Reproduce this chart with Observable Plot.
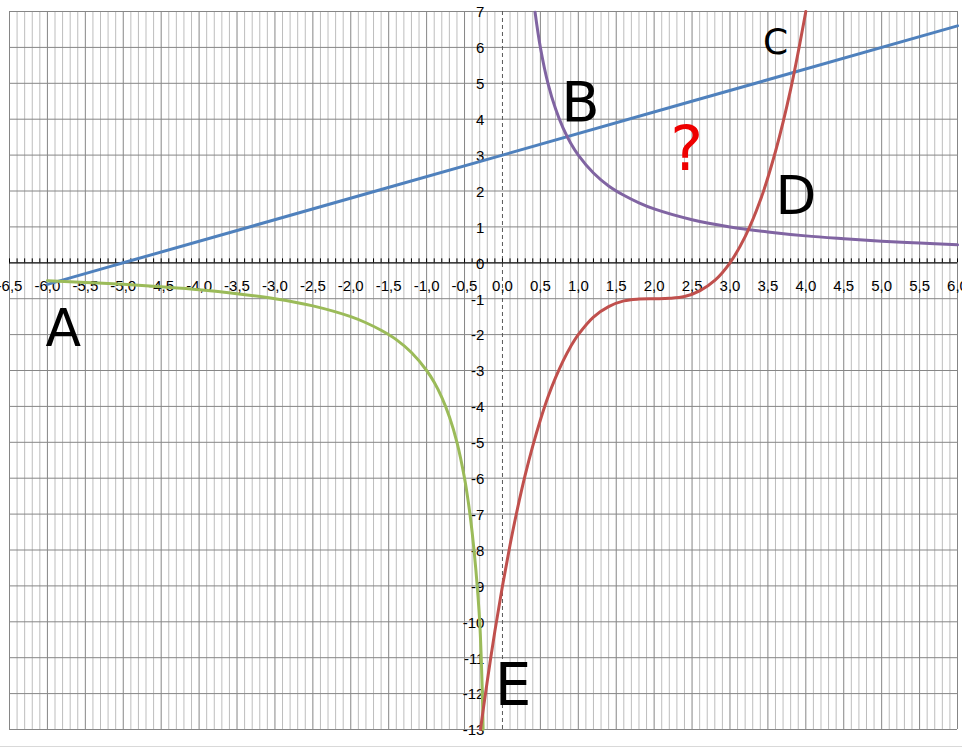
<!DOCTYPE html>
<html><head><meta charset="utf-8">
<script src="https://cdn.jsdelivr.net/npm/d3@7"></script>
<script src="https://cdn.jsdelivr.net/npm/@observablehq/plot@0.6"></script>
<style>
body{margin:0;background:#fff}
#wrap{position:relative;width:962px;height:749px;overflow:hidden;background:#fff}
#edge{position:absolute;left:0;top:746px;width:962px;height:1px;background:#d9d9d9}
</style>
</head><body><div id="wrap"><div id="edge"></div></div>
<script>
// ---- data ----
const blueX = [-6.0, -5.0, 0.0, 6.0];
const blueY = [-0.6, 0.0, 3.0, 6.6];

const purpleX = [0.43, 0.5, 0.6, 0.7, 0.8, 0.9, 1.0, 1.2, 1.4, 1.6, 1.8, 2.0, 2.5, 3.0, 3.5, 4.0, 4.5, 5.0, 5.5, 6.0];
const purpleY = [6.98, 6.0, 5.0, 4.29, 3.75, 3.33, 3.0, 2.5, 2.14, 1.88, 1.67, 1.5, 1.2, 1.0, 0.86, 0.75, 0.67, 0.6, 0.55, 0.5];

const greenX = [-6.0, -5.5, -5.0, -4.5, -4.0, -3.5, -3.0, -2.5, -2.0, -1.8, -1.6, -1.4, -1.2, -1.0, -0.9, -0.8, -0.7, -0.6, -0.5, -0.45, -0.4, -0.35, -0.3, -0.28, -0.265, -0.255];
const greenY = [-0.5, -0.55, -0.6, -0.67, -0.75, -0.86, -1.0, -1.2, -1.5, -1.67, -1.88, -2.14, -2.5, -3.0, -3.33, -3.75, -4.29, -5.0, -6.0, -6.67, -7.5, -8.57, -10.0, -11.0, -12.0, -13.0];

const redX = [-0.29, -0.2, -0.1, 0.0, 0.1, 0.2, 0.3, 0.4, 0.5, 0.6, 0.7, 0.8, 0.9, 1.0, 1.2, 1.4, 1.6, 1.8, 2.0, 2.2, 2.4, 2.6, 2.8, 3.0, 3.2, 3.4, 3.6, 3.8, 4.0];
const redY = [-13.0, -11.65, -10.26, -9.0, -7.86, -6.83, -5.91, -5.1, -4.38, -3.74, -3.2, -2.73, -2.33, -2.0, -1.51, -1.22, -1.06, -1.01, -1.0, -0.99, -0.94, -0.78, -0.49, 0.0, 0.73, 1.74, 3.1, 4.83, 7.0];

const xTickValues = [-6.5, -6.0, -5.5, -5.0, -4.5, -4.0, -3.5, -3.0, -2.5, -2.0, -1.5, -1.0, -0.5, 0.0, 0.5, 1.0, 1.5, 2.0, 2.5, 3.0, 3.5, 4.0, 4.5, 5.0, 5.5, 6.0];
const yTickValues = [7, 6, 5, 4, 3, 2, 1, 0, -1, -2, -3, -4, -5, -6, -7, -8, -9, -10, -11, -12, -13];

const noteText = ["A", "B", "C", "D", "E", "?"];
const noteX = [-5.79, 1.03, 3.60, 3.87, 0.14, 2.43];
const noteY = [-1.86, 4.46, 6.14, 1.82, -11.80, 3.13];

// ---- styling ----
const noteSize = {A: 52, B: 56, C: 36, D: 53, E: 58, "?": 62};
const noteColor = {A: "#000", B: "#000", C: "#000", D: "#000", E: "#000", "?": "#ee0000"};

const pts = (xs, ys) => xs.map((x, i) => ({x, y: ys[i]}));
const minorX = d3.range(-65, 61).map(i => i / 10);
const minorOnly = minorX.filter(v => Math.abs(Math.round(v * 10)) % 5 !== 0);
const fmt = v => v.toFixed(1).replace(".", ",");
const notes = noteText.map((t, i) => ({t, x: noteX[i], y: noteY[i]}));

const lineOpts = (c) => ({x: "x", y: "y", stroke: c, strokeWidth: 3, curve: "catmull-rom", strokeLinecap: "round", strokeLinejoin: "round"});

const chart = Plot.plot({
  width: 962, height: 749,
  marginLeft: 9, marginRight: 5, marginTop: 11, marginBottom: 20,
  x: {domain: [-6.5, 6.0], axis: null},
  y: {domain: [-13, 7], axis: null},
  style: {fontFamily: "'Liberation Sans', Arial, sans-serif", background: "transparent", overflow: "visible"},
  marks: [
    Plot.ruleX(minorOnly, {x: d => d, stroke: "#bdbdbd", strokeWidth: 1}),
    Plot.ruleX(xTickValues.filter(d => d !== 0), {x: d => d, stroke: "#868686", strokeWidth: 1}),
    Plot.ruleY(yTickValues.filter(d => d !== 0), {y: d => d, stroke: "#868686", strokeWidth: 1}),
    Plot.ruleX([0], {x: d => d, stroke: "#595959", strokeWidth: 1, strokeDasharray: "4,3"}),
    Plot.ruleY([0], {y: d => d, stroke: "#000", strokeWidth: 1.3}),
    Plot.ruleX(minorX, {x: d => d, y1: 0, y2: 0.11, stroke: "#000", strokeWidth: 1}),
    Plot.text(xTickValues, {x: d => d, y: 0, dy: 23, text: fmt, fontSize: 15, fill: "#000"}),
    Plot.text(yTickValues, {x: 0, y: d => d, dx: -18, dy: 1, textAnchor: "end", text: d => String(d), fontSize: 15, fill: "#000"}),
    Plot.line(pts(blueX, blueY), lineOpts("#4f81bd")),
    Plot.line(pts(purpleX, purpleY), lineOpts("#8064a2")),
    Plot.line(pts(greenX, greenY), lineOpts("#9bbb59")),
    Plot.line(pts(redX, redY), lineOpts("#c0504d")),
    ...notes.map(n => Plot.text([n], {x: "x", y: "y", text: "t", fontSize: noteSize[n.t], fontFamily: "'DejaVu Sans', sans-serif", fill: noteColor[n.t]}))
  ]
});
document.getElementById("wrap").appendChild(chart);
</script>
</body></html>
